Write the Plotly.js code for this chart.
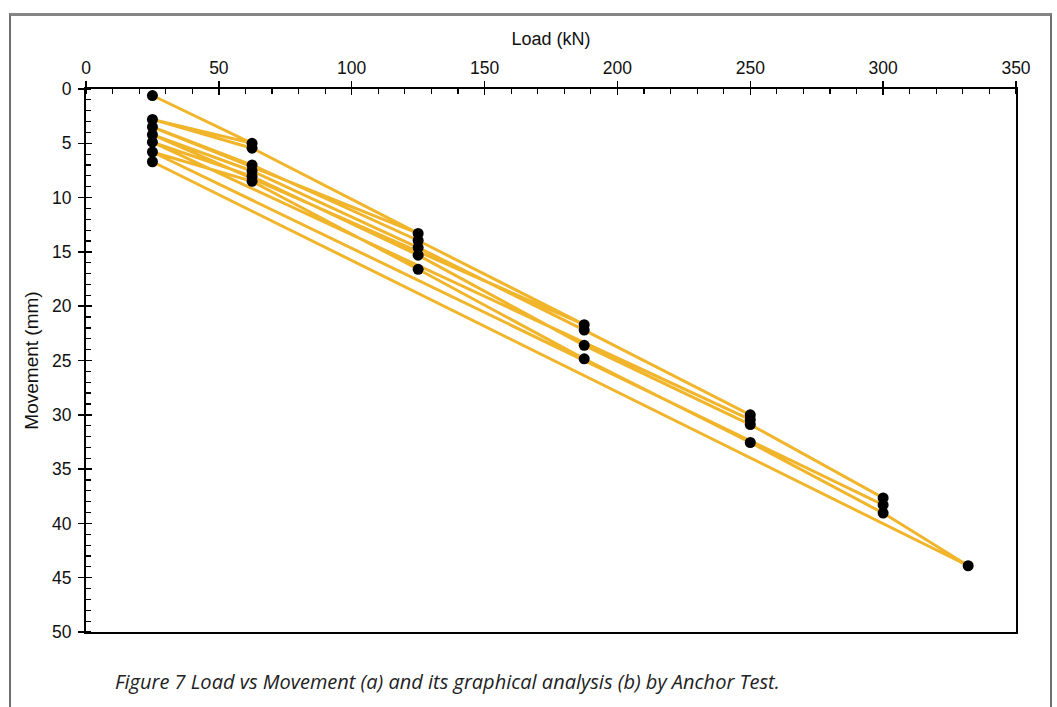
<!DOCTYPE html>
<html>
<head>
<meta charset="utf-8">
<script src="https://cdn.plot.ly/plotly-3.0.1.min.js"></script>
<style>
  html, body { margin: 0; padding: 0; background: #fff; }
  #frame { position: absolute; left: 9px; top: 13px; width: 1039px; height: 720px;
           border-left: 2px solid #6f6f6f; border-right: 2px solid #6f6f6f; border-top: 3px solid #858585; }
  #chart { position: absolute; left: 0; top: 0; width: 1057px; height: 707px; }
</style>
</head>
<body>
<div id="frame"></div>
<div id="chart"></div>
<script>
// Load (kN) in the order the readings were taken (load / unload cycles)
const loadKN = [25, 62.5, 25,
                62.5, 125, 25,
                62.5, 125, 187.5, 25,
                62.5, 125, 187.5, 250, 250, 25,
                62.5, 125, 187.5, 250, 300, 300, 25,
                62.5, 125, 187.5, 250, 300, 332, 25];
// Movement (mm) for each reading
const movementMM = [0.6, 5.0, 2.8,
                    5.45, 13.3, 3.5,
                    7.0, 13.95, 21.7, 4.2,
                    7.55, 14.6, 22.2, 30.0, 30.45, 4.9,
                    8.05, 15.3, 23.6, 30.9, 37.65, 38.3, 5.8,
                    8.5, 16.6, 24.85, 32.55, 39.05, 43.9, 6.7];
const xTitle = "Load (kN)";
const yTitle = "Movement (mm)";
const caption = "Figure 7 Load vs Movement (a) and its graphical analysis (b) by Anchor Test.";

const tickFont = {family: "Liberation Sans, Arial, sans-serif", size: 17.5, color: "#111"};

const traces = [
  {
    x: loadKN, y: movementMM, type: "scatter", mode: "lines",
    line: {color: "#F1B52C", width: 3}, hoverinfo: "skip", showlegend: false
  },
  {
    x: loadKN, y: movementMM, type: "scatter", mode: "markers",
    marker: {color: "#000", size: 11}, showlegend: false
  },
  { x: [], y: [], xaxis: "x2", yaxis: "y2", type: "scatter", showlegend: false }
];

const layout = {
  width: 1057, height: 707,
  margin: {l: 86, r: 41, t: 89, b: 75},
  paper_bgcolor: "rgba(0,0,0,0)", plot_bgcolor: "#fff",
  showlegend: false,
  xaxis: {
    side: "top", range: [0, 350], dtick: 50, tick0: 0,
    showgrid: false, zeroline: false,
    showline: true, linecolor: "#000", linewidth: 2, mirror: true,
    ticks: "outside", ticklen: 6, tickwidth: 1.5, tickcolor: "#000",
    minor: {dtick: 10, ticks: "inside", ticklen: 5, tickwidth: 1.2, tickcolor: "#000"},
    tickfont: tickFont,
    title: {text: xTitle, font: {family: "Liberation Sans, Arial, sans-serif", size: 18, color: "#111"}, standoff: 8}
  },
  yaxis: {
    range: [50, 0], dtick: 5, tick0: 0,
    showgrid: false, zeroline: false,
    showline: true, linecolor: "#000", linewidth: 2, mirror: true,
    ticks: "outside", ticklen: 6, tickwidth: 1.5, tickcolor: "#000",
    ticklabelstandoff: 3,
    minor: {dtick: 1, ticks: "inside", ticklen: 5, tickwidth: 1.2, tickcolor: "#000"},
    tickfont: tickFont,
    title: {text: yTitle, font: {family: "Liberation Sans, Arial, sans-serif", size: 19, color: "#111"}, standoff: 8}
  },
  xaxis2: {
    overlaying: "x", side: "top", range: [0, 350], dtick: 50, tick0: 0,
    showgrid: false, zeroline: false, showline: false,
    ticks: "inside", ticklen: 6, tickwidth: 1.5, tickcolor: "#000", showticklabels: false
  },
  yaxis2: {
    overlaying: "y", side: "left", range: [50, 0], dtick: 5, tick0: 0,
    showgrid: false, zeroline: false, showline: false,
    ticks: "inside", ticklen: 6, tickwidth: 1.5, tickcolor: "#000", showticklabels: false
  },
  annotations: [{
    text: caption, xref: "paper", yref: "paper", x: 0.029, y: -0.091,
    xanchor: "left", yanchor: "middle", showarrow: false,
    font: {family: "Open Sans, Noto Sans, sans-serif", size: 20, color: "#222", style: "italic"}
  }]
};

Plotly.newPlot("chart", traces, layout, {displayModeBar: false, staticPlot: true});
</script>
</body>
</html>
